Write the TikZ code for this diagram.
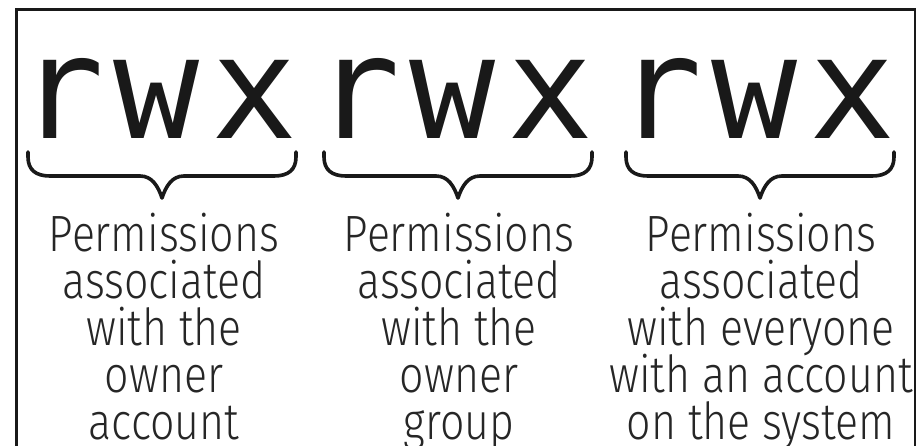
\documentclass[tikz,border=0pt]{standalone}
\usepackage{fontspec}
\newfontfamily\codefont{DejaVu Sans Mono}
\newfontfamily\labelfont[FakeStretch=0.84]{Fira Sans Light}
\begin{document}
\begin{tikzpicture}[x=1pt,y=-1pt,
  frame/.style={line width=2.6pt, black!90},
  bit/.style={font=\codefont\fontsize{143}{143}\selectfont, anchor=base, inner sep=0pt, text=black!90},
  caption/.style={font=\labelfont\fontsize{51}{47}\selectfont, anchor=base, inner sep=0pt, text=black!85},
  brace/.style={line width=3.6pt, line cap=round, line join=round, black!90}]
\useasboundingbox (0,0) rectangle (924,445);
\clip (0,0) rectangle (924,445);
% open frame, running off the bottom edge
\draw[frame] (16.5,470) -- (16.5,9.3) -- (915,9.3) -- (915,470);
% the three permission triplets with their braces
\foreach \g/\cx in {1/162, 2/458, 3/760} {
  \node[bit] (r\g) at (\cx-100,138) {r};
  \node[bit] (w\g) at (\cx-5,138) {w};
  \node[bit] (x\g) at (\cx+93,138) {x};
  \draw[brace] (\cx-134,152) -- (\cx-134,157)
    .. controls (\cx-134,170) and (\cx-126,176) .. (\cx-112,176) -- (\cx-22,176)
    .. controls (\cx-10,176) and (\cx-4,186) .. (\cx,198)
    .. controls (\cx+4,186) and (\cx+10,176) .. (\cx+22,176) -- (\cx+112,176)
    .. controls (\cx+126,176) and (\cx+134,170) .. (\cx+134,157) -- (\cx+134,152);
}
% captions under each brace
\foreach \t [count=\i] in {Permissions, associated, with the, owner, account}
  \node[caption] (u\i) at (164,204+47*\i) {\t};
\foreach \t [count=\i] in {Permissions, associated, with the, owner, group}
  \node[caption] (g\i) at (459,204+47*\i) {\t};
\foreach \t [count=\i] in {Permissions, associated, with everyone, with an account, on the system}
  \node[caption] (o\i) at (761,204+47*\i) {\t};
\end{tikzpicture}
\end{document}
